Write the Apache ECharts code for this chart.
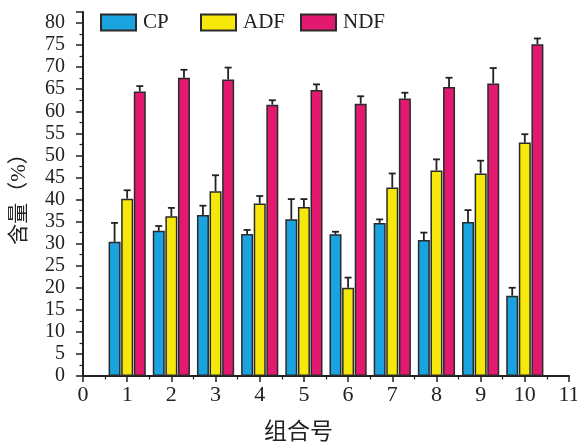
<!DOCTYPE html>
<html>
<head>
<meta charset="utf-8">
<script src="https://cdn.jsdelivr.net/npm/echarts@6/dist/echarts.min.js"></script>
<style>html,body{margin:0;padding:0;background:#fff;}#c{width:577px;height:443px;}</style>
</head>
<body>
<div id="c"></div>
<script>
// ---- data ----
var groups = [1, 2, 3, 4, 5, 6, 7, 8, 9, 10];
var seriesNames = ['CP', 'ADF', 'NDF'];
var cpValues  = [30.4, 32.9, 36.5, 32.2, 35.5, 32.1, 34.7, 30.8, 34.9, 18.2];
var cpErr     = [4.3, 1.1, 2.1, 0.9, 4.6, 0.6, 0.8, 1.7, 2.7, 1.8];
var adfValues = [40.2, 36.2, 41.9, 39.1, 38.3, 20.0, 42.7, 46.6, 45.9, 52.9];
var adfErr    = [1.9, 1.9, 3.6, 1.7, 1.8, 2.3, 3.2, 2.5, 2.9, 1.9];
var ndfValues = [64.5, 67.6, 67.2, 61.5, 64.8, 61.7, 62.9, 65.5, 66.3, 75.2];
var ndfErr    = [1.2, 1.8, 2.7, 1.0, 1.3, 1.7, 1.3, 2.1, 3.5, 1.3];
var yTicks = [0, 5, 10, 15, 20, 25, 30, 35, 40, 45, 50, 55, 60, 65, 70, 75, 80];
var xTicks = [0, 1, 2, 3, 4, 5, 6, 7, 8, 9, 10, 11];
var xTitle = '组合号';
var yTitle = '含量（%）';

// ---- style ----
var colors = ['#1aa3de', '#f7e80c', '#e3186f'];
var BAR_W = 12, BAR_GAP = 0.05;
var latin = 'Liberation Serif, Noto Sans CJK SC';
var axisColor = '#222';

function pairs(vals) { return groups.map(function (g, i) { return [g, vals[i]]; }); }
function triples(vals, errs) { return groups.map(function (g, i) { return [g, vals[i], errs[i]]; }); }

function errRender(slot) {
  return function (params, api) {
    var x = api.value(0), v = api.value(1), e = api.value(2);
    var p0 = api.coord([x, v]);
    var p1 = api.coord([x, v + e]);
    var cx = p0[0] + slot * BAR_W * (1 + BAR_GAP);
    var half = 3.5;
    return {
      type: 'group',
      children: [
        { type: 'line', shape: { x1: cx, y1: p0[1], x2: cx, y2: p1[1] }, style: { stroke: '#222', lineWidth: 1.8 } },
        { type: 'line', shape: { x1: cx - half, y1: p1[1], x2: cx + half, y2: p1[1] }, style: { stroke: '#222', lineWidth: 1.8 } }
      ]
    };
  };
}

var valueSets = [cpValues, adfValues, ndfValues];
var errSets = [cpErr, adfErr, ndfErr];
var series = [];
seriesNames.forEach(function (n, k) {
  series.push({
    name: n, type: 'bar', data: pairs(valueSets[k]),
    barWidth: BAR_W, barGap: (BAR_GAP * 100) + '%',
    itemStyle: { color: colors[k], borderColor: '#2a2a2a', borderWidth: 1.5 },
    emphasis: { disabled: true }, animation: false
  });
});
seriesNames.forEach(function (n, k) {
  series.push({
    name: n + ' err', type: 'custom', data: triples(valueSets[k], errSets[k]),
    renderItem: errRender(k - 1), z: 5, animation: false, silent: true
  });
});

var legendBase = {
  top: 12, itemWidth: 35, itemHeight: 16, padding: 0, icon: 'rect',
  textStyle: { fontFamily: latin, fontSize: 21, color: '#222', padding: [0, 0, 0, 2] }
};
var legendLeft = [100, 200, 300];

var chart = echarts.init(document.getElementById('c'), null, { renderer: 'canvas' });
chart.setOption({
  animation: false,
  backgroundColor: '#fff',
  legend: seriesNames.map(function (n, k) {
    return Object.assign({}, legendBase, { data: [n], left: legendLeft[k] });
  }),
  grid: { left: 83, right: 8, top: 12, bottom: 67, containLabel: false, outerBoundsMode: 'none' },
  xAxis: {
    type: 'value', min: xTicks[0], max: xTicks[xTicks.length - 1], interval: 1,
    name: xTitle, nameLocation: 'middle', nameGap: 45,
    nameTextStyle: { fontFamily: latin, fontSize: 23, color: '#222', padding: [0, 55, 0, 0] },
    axisLine: { lineStyle: { color: axisColor, width: 2 } },
    axisTick: { show: true, length: 6, lineStyle: { color: axisColor, width: 1.5 } },
    minorTick: { show: true, splitNumber: 2, length: 3.5, lineStyle: { color: axisColor, width: 1.2 } },
    axisLabel: { fontFamily: latin, fontSize: 22, color: '#222', margin: 8 },
    splitLine: { show: false }
  },
  yAxis: {
    type: 'value', min: yTicks[0], max: 82.5, interval: 5,
    name: yTitle, nameLocation: 'middle', nameGap: 53, nameRotate: 90,
    nameTextStyle: { fontFamily: latin, fontSize: 21, color: '#222' },
    axisLine: { show: true, lineStyle: { color: axisColor, width: 2 } },
    axisTick: { show: true, length: 7, lineStyle: { color: axisColor, width: 1.5 } },
    minorTick: { show: true, splitNumber: 2, length: 3.5, lineStyle: { color: axisColor, width: 1.2 } },
    axisLabel: { fontFamily: latin, fontSize: 20, color: '#222', margin: 18, showMaxLabel: false },
    splitLine: { show: false }
  },
  series: series
});
</script>
</body>
</html>
